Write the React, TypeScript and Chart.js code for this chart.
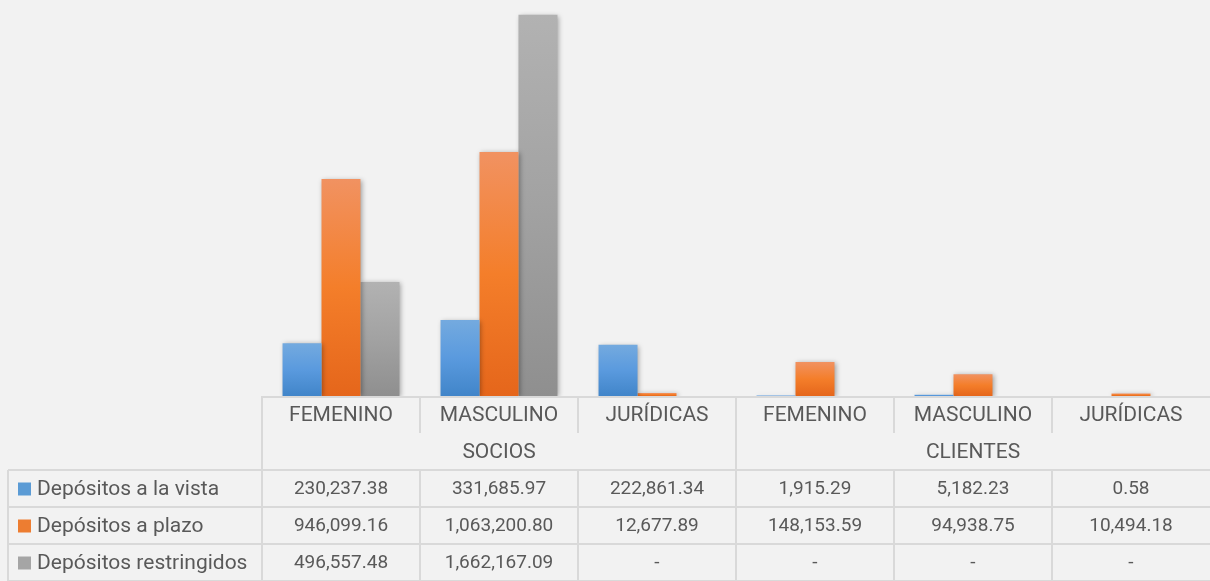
import React, { useEffect, useRef } from 'react';
import { Chart, registerables } from 'chart.js';
Chart.register(...registerables);

const categories = ['FEMENINO', 'MASCULINO', 'JURÍDICAS', 'FEMENINO', 'MASCULINO', 'JURÍDICAS'];
const groups = ['SOCIOS', 'CLIENTES'];
const groupSpans = [3, 3];
const seriesNames = ['Depósitos a la vista', 'Depósitos a plazo', 'Depósitos restringidos'];
const vista = [230237.38, 331685.97, 222861.34, 1915.29, 5182.23, 0.58];
const plazo = [946099.16, 1063200.8, 12677.89, 148153.59, 94938.75, 10494.18];
const restringidos = [496557.48, 1662167.09, 0, 0, 0, 0];
const yMax = 1700000;

const gradStops = [
  ['#74aadf', '#5a9ade', '#4185c9'],
  ['#f19261', '#f47e2a', '#e5661b'],
  ['#b2b2b2', '#a2a2a2', '#8f8f8f'],
];
const swatch = ['#5b9bd5', '#ed7d31', '#a5a5a5'];

const LABEL_FONT = '21px Roboto';
const NUM_FONT = '19px Roboto';
const TXT = '#595959';
const LINE = '#d9d9d9';

const makeGrad = (stops: string[]) => (ctx: any) => {
  const chart = ctx.chart;
  const { chartArea, scales } = chart;
  if (!chartArea || ctx.type !== 'data' || !scales || !scales.y) return stops[1];
  const y = scales.y;
  const top = y.getPixelForValue(ctx.raw);
  const bottom = y.getPixelForValue(0);
  if (!isFinite(top) || !isFinite(bottom) || bottom - top < 1) return stops[1];
  const g = chart.ctx.createLinearGradient(0, top, 0, bottom);
  g.addColorStop(0, stops[0]);
  g.addColorStop(0.5, stops[1]);
  g.addColorStop(1, stops[2]);
  return g;
};

const fmt = (v: number) =>
  v === 0 ? '-' : v.toLocaleString('en-US', { minimumFractionDigits: 2, maximumFractionDigits: 2 });

const shadowPlugin = {
  id: 'barShadow',
  beforeDatasetsDraw(chart: any) {
    const c = chart.ctx;
    c.save();
    c.shadowColor = 'rgba(0,0,0,0.35)';
    c.shadowBlur = 5;
    c.shadowOffsetX = 1.5;
    c.shadowOffsetY = 1;
  },
  afterDatasetsDraw(chart: any) {
    chart.ctx.restore();
  },
};

const tablePlugin = {
  id: 'dataTable',
  afterDraw(chart: any) {
    const c = chart.ctx;
    const x = chart.scales.x;
    const area = chart.chartArea;
    const n = categories.length;
    const colW = (area.right - area.left) / n;
    const left = area.left;
    const right = area.right;
    const y0 = area.bottom;
    const rowH = 37;
    const r1 = y0 + rowH;
    const r2 = r1 + rowH;
    const dataRows = [r2, r2 + rowH, r2 + 2 * rowH, r2 + 3 * rowH];
    const tableLeft = 8;
    const series = [vista, plazo, restringidos];

    c.save();
    c.strokeStyle = LINE;
    c.lineWidth = 2;
    const line = (x1: number, y1: number, x2: number, y2: number) => {
      c.beginPath();
      c.moveTo(x1, y1);
      c.lineTo(x2, y2);
      c.stroke();
    };
    line(left, y0 + 1, right, y0 + 1);
    line(left, y0, left, dataRows[3]);
    dataRows.forEach((yy) => line(tableLeft, yy, right, yy));
    line(tableLeft, r2, tableLeft, dataRows[3]);
    let acc = 0;
    const groupBounds: number[] = [];
    groupSpans.forEach((s) => {
      acc += s;
      groupBounds.push(acc);
    });
    for (let i = 1; i < n; i++) {
      const xx = left + colW * i;
      line(xx, y0, xx, r1);
      line(xx, r2, xx, dataRows[3]);
      if (groupBounds.includes(i)) line(xx, r1, xx, r2);
    }

    c.fillStyle = TXT;
    c.font = LABEL_FONT;
    c.textAlign = 'center';
    c.textBaseline = 'middle';
    categories.forEach((cat, i) => {
      c.fillText(cat, x.getPixelForValue(i), y0 + rowH / 2 + 1);
    });
    let start = 0;
    groups.forEach((g, gi) => {
      const end = start + groupSpans[gi];
      const cx = left + (colW * (start + end)) / 2;
      c.fillText(g, cx, r1 + rowH / 2 + 1);
      start = end;
    });
    series.forEach((vals, si) => {
      const cy = dataRows[si] + rowH / 2 + 1;
      c.font = NUM_FONT;
      c.textAlign = 'center';
      c.fillStyle = TXT;
      vals.forEach((v, i) => {
        c.fillText(fmt(v), x.getPixelForValue(i), cy);
      });
      c.fillStyle = swatch[si];
      c.fillRect(18, cy - 7, 13, 13);
      c.fillStyle = TXT;
      c.font = LABEL_FONT;
      c.textAlign = 'left';
      c.fillText(seriesNames[si], 37, cy);
    });
    c.restore();
  },
};

export default function App() {
  const ref = useRef<HTMLCanvasElement | null>(null);
  useEffect(() => {
    document.body.style.margin = '0';
    document.body.style.background = '#f2f2f2';
    if (!ref.current) return;
    const chart = new Chart(ref.current, {
      type: 'bar',
      data: {
        labels: categories,
        datasets: [vista, plazo, restringidos].map((d, i) => ({
          label: seriesNames[i],
          data: d,
          backgroundColor: makeGrad(gradStops[i]),
          borderWidth: 0,
          categoryPercentage: 0.74,
          barPercentage: 1,
        })),
      },
      options: {
        animation: false,
        responsive: true,
        maintainAspectRatio: false,
        layout: { padding: { left: 262, right: 0, top: 6, bottom: 185 } },
        plugins: { legend: { display: false }, tooltip: { enabled: false } },
        scales: {
          x: { display: false },
          y: { display: false, min: 0, max: yMax },
        },
      },
      plugins: [shadowPlugin, tablePlugin],
    });
    return () => chart.destroy();
  }, []);
  return (
    <div style={{ position: 'relative', width: '1210px', height: '581px', background: '#f2f2f2' }}>
      <canvas ref={ref} />
    </div>
  );
}
